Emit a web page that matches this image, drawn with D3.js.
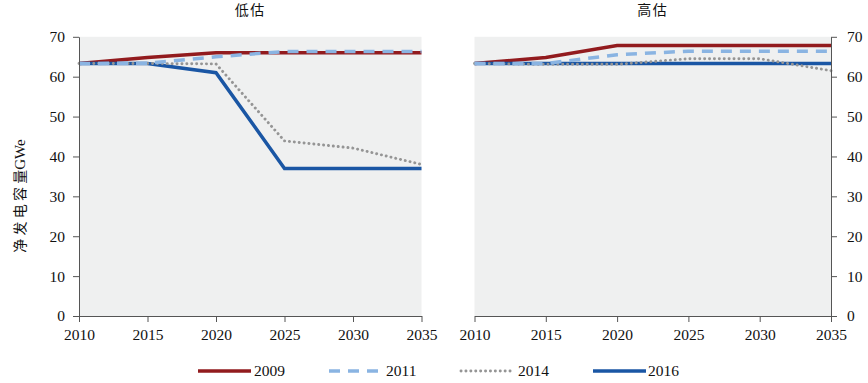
<!DOCTYPE html>
<html><head><meta charset="utf-8">
<script src="https://cdn.jsdelivr.net/npm/d3@7"></script>
<style>body{margin:0;background:#fff}svg{display:block}</style>
</head><body>
<svg id="c" width="868" height="383"></svg>
<script>
const years = [2010, 2015, 2020, 2025, 2030, 2035];
const yTicks = [0, 10, 20, 30, 40, 50, 60, 70];
const panelTitles = ["低估", "高估"];
const yLabelCjk = "净发电容量";
const yLabelUnit = "GWe";
const seriesNames = ["2009", "2011", "2014", "2016"];
// low case
const low2009 = [63.3, 64.8, 66.0, 66.0, 66.0, 66.0];
const low2011 = [63.3, 63.4, 65.0, 66.3, 66.3, 66.3];
const low2014 = [63.3, 63.3, 63.2, 43.9, 42.1, 38.0];
const low2016 = [63.3, 63.3, 61.0, 37.0, 37.0, 37.0];
// high case
const high2009 = [63.3, 64.8, 67.8, 67.8, 67.8, 67.8];
const high2011 = [63.3, 63.3, 65.5, 66.4, 66.4, 66.4];
const high2014 = [63.3, 63.1, 63.1, 64.5, 64.5, 61.5];
const high2016 = [63.3, 63.3, 63.3, 63.3, 63.3, 63.3];

const styles = {
  "2009": {color:"#921b1e", width:3.5, dash:null, cap:"butt"},
  "2011": {color:"#8ab4e2", width:3.5, dash:"11 8", cap:"butt"},
  "2014": {color:"#959595", width:2.9, dash:"0.1 4.8", cap:"round"},
  "2016": {color:"#1a56a4", width:3.5, dash:null, cap:"butt"}
};
const drawOrder = ["2009", "2016", "2014", "2011"];

const svg = d3.select("#c");
const serif = "'Liberation Serif','Times New Roman',serif";
const cjk = "'Noto Sans CJK SC',sans-serif";
const axisColor = "#555";

const panels = [
  {title: panelTitles[0], x0: 79, x1: 421.5, side: "left",
   data: {"2009": low2009, "2011": low2011, "2014": low2014, "2016": low2016}},
  {title: panelTitles[1], x0: 474.5, x1: 831, side: "right",
   data: {"2009": high2009, "2011": high2011, "2014": high2014, "2016": high2016}}
];
const yTop = 36.8, yBot = 316;

panels.forEach(p => {
  const x = d3.scaleLinear().domain([2010, 2035]).range([p.x0, p.x1]);
  const y = d3.scaleLinear().domain([0, 70]).range([yBot, yTop]);
  const g = svg.append("g");
  g.append("rect").attr("x", p.x0).attr("y", yTop).attr("width", p.x1 - p.x0)
    .attr("height", yBot - yTop).attr("fill", "#eff0f0");

  const line = d3.line().x((d, i) => x(years[i])).y(d => y(d));
  drawOrder.forEach(name => {
    const s = styles[name];
    g.append("path").datum(p.data[name]).attr("d", line)
      .attr("fill", "none").attr("stroke", s.color).attr("stroke-width", s.width)
      .attr("stroke-dasharray", s.dash).attr("stroke-linecap", s.cap)
      .attr("stroke-linejoin", "miter");
  });

  const xa = g.append("g").attr("transform", `translate(0,${yBot})`)
    .call(d3.axisBottom(x).tickValues(years).tickFormat(d3.format("d")).tickSize(6).tickSizeOuter(0));
  xa.selectAll("text").attr("font-family", serif).attr("font-size", 15.5).attr("fill", "#111").attr("dy", "0.95em");
  xa.selectAll("line,path").attr("stroke", axisColor);

  const ax = p.side === "left" ? d3.axisLeft(y) : d3.axisRight(y);
  const ya = g.append("g").attr("transform", `translate(${p.side === "left" ? p.x0 : p.x1},0)`)
    .call(ax.tickValues(yTicks).tickSize(6).tickSizeOuter(0).tickPadding(p.side === "left" ? 8 : 10));
  ya.selectAll("text").attr("font-family", serif).attr("font-size", 15.5).attr("fill", "#111");
  ya.selectAll("line,path").attr("stroke", axisColor);

  g.append("text").attr("x", (p.x0 + p.x1) / 2).attr("y", 14.5).attr("text-anchor", "middle")
    .attr("font-family", cjk).attr("font-size", 14).attr("letter-spacing", 1.5).attr("fill", "#111").text(p.title);
});

const yl = svg.append("text").attr("transform", "translate(25,196) rotate(-90)")
  .attr("text-anchor", "middle").attr("fill", "#111");
yl.append("tspan").attr("font-family", cjk).attr("font-size", 14).attr("letter-spacing", 3.2)
  .text(yLabelCjk.slice(0, -1));
yl.append("tspan").attr("font-family", cjk).attr("font-size", 14).text(yLabelCjk.slice(-1));
yl.append("tspan").attr("font-family", serif).attr("font-size", 15).text(yLabelUnit);

const legendItems = [
  {name: "2009", x0: 198, x1: 251, tx: 254},
  {name: "2011", x0: 329, x1: 382, tx: 386},
  {name: "2014", x0: 461, x1: 511, tx: 518},
  {name: "2016", x0: 593, x1: 646, tx: 648}
];
const ly = 371;
legendItems.forEach(it => {
  const s = styles[it.name];
  svg.append("line").attr("x1", it.x0).attr("x2", it.x1).attr("y1", ly).attr("y2", ly)
    .attr("stroke", s.color).attr("stroke-width", s.width).attr("stroke-dasharray", s.dash)
    .attr("stroke-linecap", s.cap);
  svg.append("text").attr("x", it.tx).attr("y", ly).attr("dy", "0.35em")
    .attr("font-family", serif).attr("font-size", 15.5).attr("fill", "#111").text(it.name);
});
</script>
</body></html>
